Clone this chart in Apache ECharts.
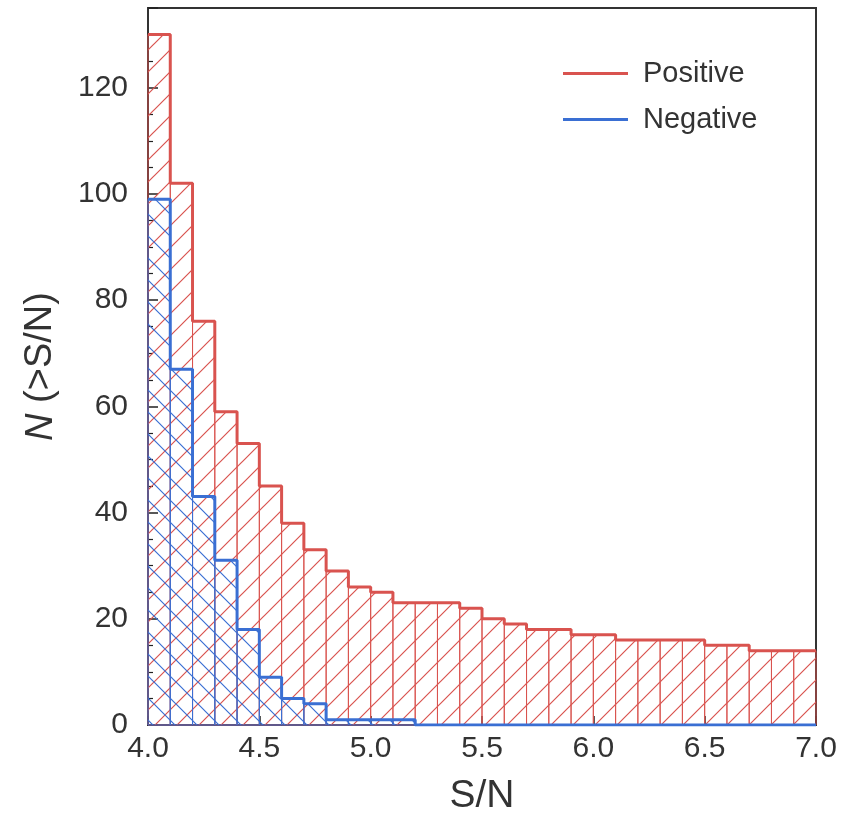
<!DOCTYPE html>
<html>
<head>
<meta charset="utf-8">
<script src="https://cdn.jsdelivr.net/npm/echarts@6/dist/echarts.min.js"></script>
<style>html,body{margin:0;padding:0;background:#fff}#c{width:852px;height:813px}</style>
</head>
<body>
<div id="c"></div>
<script>
// Bin left edges (width 0.1)
const binStarts = [4.0,4.1,4.2,4.3,4.4,4.5,4.6,4.7,4.8,4.9,5.0,5.1,5.2,5.3,5.4,5.5,5.6,5.7,5.8,5.9,6.0,6.1,6.2,6.3,6.4,6.5,6.6,6.7,6.8,6.9];
const binEnd = 7.0;
const positive = [130,102,76,59,53,45,38,33,29,26,25,23,23,23,22,20,19,18,18,17,17,16,16,16,16,15,15,14,14,14];
const negative = [99,67,43,31,18,9,5,4,1,1,1,1,0,0,0,0,0,0,0,0,0,0,0,0,0,0,0,0,0,0];
const xTicks = [4.0,4.5,5.0,5.5,6.0,6.5,7.0];
const yTicks = [0,20,40,60,80,100,120];

const RED = '#d9534f';
const BLUE = '#3a6fd3';

function hatch(color, dir) {
  const s = 22;
  const c = document.createElement('canvas');
  c.width = s; c.height = s;
  const g = c.getContext('2d');
  g.strokeStyle = color; g.lineWidth = 1.2;
  g.beginPath();
  if (dir === '/') {
    g.moveTo(-2, s + 2); g.lineTo(s + 2, -2);
    g.moveTo(-2, 2); g.lineTo(2, -2);
    g.moveTo(s - 2, s + 2); g.lineTo(s + 2, s - 2);
  } else {
    g.moveTo(-2, -2); g.lineTo(s + 2, s + 2);
    g.moveTo(s - 2, -2); g.lineTo(s + 2, 2);
    g.moveTo(-2, s - 2); g.lineTo(2, s + 2);
  }
  g.stroke();
  return c;
}

function binData(vals) {
  return binStarts.map((x0, i) => [x0, i + 1 < binStarts.length ? binStarts[i + 1] : binEnd, vals[i]]);
}
function stepData(vals) {
  const d = binStarts.map((x0, i) => [x0, vals[i]]);
  d.push([binEnd, vals[vals.length - 1]]);
  return d;
}
function makeRender(color, pat) {
  return function (params, api) {
    const x0 = api.value(0), x1 = api.value(1), y = api.value(2);
    if (!(y > 0)) return null;
    const p0 = api.coord([x0, y]);
    const p1 = api.coord([x1, 0]);
    return {
      type: 'rect',
      shape: { x: p0[0], y: p0[1], width: p1[0] - p0[0], height: p1[1] - p0[1] },
      style: { fill: { image: pat, repeat: 'repeat' }, stroke: color, lineWidth: 1 }
    };
  };
}

const chart = echarts.init(document.getElementById('c'), null, { renderer: 'canvas' });
const txt = '#333333';
const font = 'Liberation Sans, Arial, sans-serif';
chart.setOption({
  animation: false,
  backgroundColor: '#fff',
  grid: { left: 148, right: 36, top: 8, bottom: 88, outerBoundsMode: 'none', containLabel: false, show: true, borderColor: '#333', borderWidth: 2, backgroundColor: 'transparent' },
  legend: {
    orient: 'vertical', left: 558, top: 54, itemWidth: 65, itemHeight: 12, itemGap: 17,
    icon: 'path://M0,4.5 L65,4.5 L65,7.5 L0,7.5 Z',
    textStyle: { fontSize: 29, color: txt, fontFamily: font, padding: [0, 0, 0, 10] },
    data: ['Positive', 'Negative']
  },
  xAxis: {
    type: 'value', min: 4.0, max: 7.0, interval: 0.5,
    name: 'S/N', nameLocation: 'middle', nameGap: 52,
    nameTextStyle: { fontSize: 39, color: txt, fontFamily: font },
    axisLine: { show: true, lineStyle: { color: '#333', width: 2 } },
    axisTick: { show: true, inside: true, length: 9, lineStyle: { color: '#222', width: 1.5 } },
    axisLabel: { fontSize: 30, color: txt, fontFamily: font, margin: 9, formatter: v => v.toFixed(1) },
    splitLine: { show: false }
  },
  yAxis: {
    type: 'value', min: 0, max: 135, interval: 20,
    name: '{i|N} (>S/N)', nameLocation: 'middle', nameGap: 88, nameRotate: 90,
    nameTextStyle: { fontSize: 38, color: txt, fontFamily: font, rich: { i: { fontStyle: 'italic', fontSize: 38, color: txt, fontFamily: font } } },
    axisLine: { show: true, lineStyle: { color: '#333', width: 2 } },
    axisTick: { show: true, inside: true, length: 10, lineStyle: { color: '#222', width: 1.5 } },
    minorTick: { show: true, splitNumber: 4, length: 5, lineStyle: { color: '#222', width: 1.2 } },
    axisLabel: { fontSize: 30, color: txt, fontFamily: font, margin: 20, customValues: yTicks },
    splitLine: { show: false }
  },
  series: [
    { name: 'PositiveBars', type: 'custom', renderItem: makeRender(RED, hatch(RED, '/')), data: binData(positive), encode: { x: [0, 1], y: 2 }, z: 1, silent: true },
    { name: 'NegativeBars', type: 'custom', renderItem: makeRender(BLUE, hatch(BLUE, '\\')), data: binData(negative), encode: { x: [0, 1], y: 2 }, z: 1, silent: true },
    { name: 'Positive', type: 'line', step: 'end', data: stepData(positive), showSymbol: false, symbol: 'none', lineStyle: { color: RED, width: 3 }, itemStyle: { color: RED }, z: 3 },
    { name: 'Negative', type: 'line', step: 'end', data: stepData(negative), showSymbol: false, symbol: 'none', lineStyle: { color: BLUE, width: 3 }, itemStyle: { color: BLUE }, z: 4 }
  ]
});
</script>
</body>
</html>
